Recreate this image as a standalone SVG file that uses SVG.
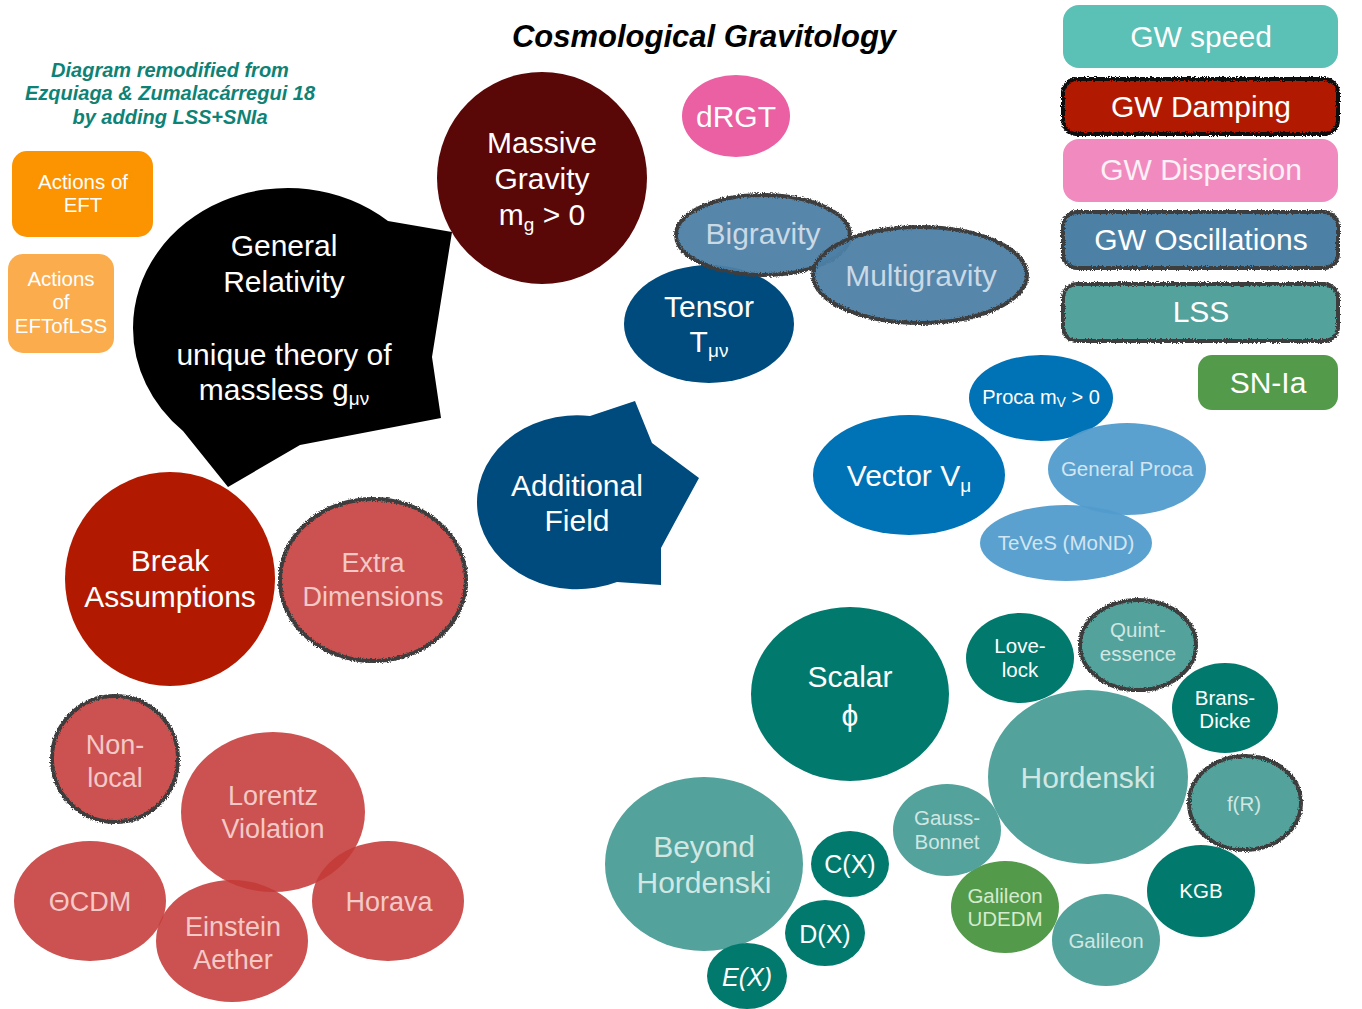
<svg xmlns="http://www.w3.org/2000/svg" width="1362" height="1009" viewBox="0 0 1362 1009">
<defs>
<filter id="rough" x="-10%" y="-10%" width="120%" height="120%">
<feTurbulence type="fractalNoise" baseFrequency="0.8" numOctaves="2" seed="3" result="n"/>
<feDisplacementMap in="SourceGraphic" in2="n" scale="4" xChannelSelector="R" yChannelSelector="G"/>
</filter>
</defs>
<style>
text{font-family:"Liberation Sans",Arial,sans-serif;text-anchor:middle}
.w{fill:#ffffff}
.big{font-size:30px}
.mid{font-size:27px}
.sm{font-size:20.5px}
.rough{fill:none;stroke:#3e3e3e;stroke-width:4;filter:url(#rough)}
.roughk{fill:none;stroke:#111;stroke-width:4;filter:url(#rough)}
.red{fill:rgb(196,58,56);fill-opacity:0.88}
.redt{fill:#f3c9c7}
.dteal{fill:#017a6d}
.lteal{fill:#53a29b}
.ltealt{fill:#d0e7e3}
.vblue{fill:#0072b6}
.lblue{fill:#529ccc}
.lbluet{fill:#d2e5f2}
.steel{fill:#4d80a5;fill-opacity:0.95}
.steelt{fill:#c9d9e6}
</style>

<g id="title">
<text x="704" y="47" style="font-size:31px;font-weight:bold;font-style:italic" fill="#000">Cosmological Gravitology</text>
</g>
<g id="subtitle" style="font-size:20px;font-weight:bold;font-style:italic" fill="#0e8275">
<text x="170" y="77">Diagram remodified from</text>
<text x="170" y="100">Ezquiaga &amp; Zumalacárregui 18</text>
<text x="170" y="124">by adding LSS+SNIa</text>
</g>

<g id="legend">
<g id="gw-speed"><rect x="1063" y="5" width="275" height="63" rx="16" fill="#5bc0b6"/><text x="1201" y="47" class="big w">GW speed</text></g>
<g id="gw-damping"><rect x="1063" y="79" width="275" height="55" rx="14" fill="#b11a00"/><rect x="1063" y="79" width="275" height="55" rx="14" class="roughk"/><text x="1201" y="117" class="big w">GW Damping</text></g>
<g id="gw-dispersion"><rect x="1063" y="139" width="275" height="63" rx="16" fill="#f18bbf"/><text x="1201" y="180" class="big" fill="#fdf0f6">GW Dispersion</text></g>
<g id="gw-oscillations"><rect x="1063" y="212" width="275" height="56" rx="14" fill="#4d80a5"/><rect x="1063" y="212" width="275" height="56" rx="14" class="rough"/><text x="1201" y="250" class="big w">GW Oscillations</text></g>
<g id="lss"><rect x="1063" y="284" width="275" height="57" rx="14" fill="#53a29b"/><rect x="1063" y="284" width="275" height="57" rx="14" class="rough"/><text x="1201" y="322" class="big w">LSS</text></g>
<g id="sn-ia"><rect x="1198" y="355" width="140" height="55" rx="14" fill="#539a4a"/><text x="1268" y="393" class="big w">SN-Ia</text></g>
</g>

<g id="actions-eft"><rect x="12" y="151" width="141" height="86" rx="15" fill="#fc9300"/>
<text x="83" y="189" class="sm w">Actions of</text><text x="83" y="212" class="sm w">EFT</text></g>
<g id="actions-eftoflss"><rect x="8" y="254" width="106" height="99" rx="15" fill="#fbac4d"/>
<text x="61" y="286" class="sm w">Actions</text><text x="61" y="309" class="sm w">of</text><text x="61" y="333" class="sm w">EFTofLSS</text></g>

<g id="general-relativity">
<path d="M388,221 L452,232 L432,357 L441,418 L300,445 L228,487 L183,431 A155 140 0 0 1 133,328 A155 140 0 0 1 388,221 Z" fill="#000"/>
<text x="284" y="256" class="big w">General</text>
<text x="284" y="292" class="big w">Relativity</text>
<text x="284" y="365" class="big w">unique theory of</text>
<text x="284" y="400" class="big w">massless g<tspan font-size="19" dy="5">μν</tspan></text>
</g>

<g id="massive-gravity">
<ellipse cx="542" cy="178" rx="105" ry="106" fill="#5a0707"/>
<text x="542" y="153" class="big w">Massive</text>
<text x="542" y="189" class="big w">Gravity</text>
<text x="542" y="225" class="big w">m<tspan font-size="19" dy="6">g</tspan><tspan dy="-6"> &gt; 0</tspan></text>
</g>

<g id="drgt"><ellipse cx="736" cy="116" rx="54" ry="41" fill="#eb5fa3"/><text x="736" y="127" class="big w">dRGT</text></g>

<g id="tensor"><ellipse cx="709" cy="324" rx="85" ry="59" fill="#004b7d"/>
<text x="709" y="317" class="big w">Tensor</text><text x="709" y="352" class="big w">T<tspan font-size="19" dy="5">μν</tspan></text></g>
<g id="bigravity"><ellipse cx="763" cy="235" rx="87" ry="40" class="steel"/><ellipse cx="763" cy="235" rx="87" ry="40" class="rough"/>
<text x="763" y="244" class="big steelt">Bigravity</text></g>
<g id="multigravity"><ellipse cx="920" cy="275" rx="107" ry="48" class="steel"/><ellipse cx="920" cy="275" rx="107" ry="48" class="rough"/>
<text x="921" y="286" class="big steelt">Multigravity</text></g>

<g id="additional-field">
<path d="M590,416 L635,401 L652,443 L699,478 L675,522 L661,548 L661,585 L617,582 A100 87 0 1 1 590,416 Z" fill="#004b7d"/>
<text x="577" y="496" class="big w">Additional</text><text x="577" y="531" class="big w">Field</text>
</g>

<g id="break-assumptions"><ellipse cx="170" cy="579" rx="105" ry="107" fill="#b11a00"/>
<text x="170" y="571" class="big w">Break</text><text x="170" y="607" class="big w">Assumptions</text></g>
<g id="extra-dimensions"><ellipse cx="373" cy="580" rx="93" ry="81" class="red"/><ellipse cx="373" cy="580" rx="93" ry="81" class="rough"/>
<text x="373" y="572" class="mid redt">Extra</text><text x="373" y="606" class="mid redt">Dimensions</text></g>

<g id="non-local"><ellipse cx="115" cy="759" rx="63" ry="63" class="red"/><ellipse cx="115" cy="759" rx="63" ry="63" class="rough"/>
<text x="115" y="754" class="mid redt">Non-</text><text x="115" y="787" class="mid redt">local</text></g>
<g id="lorentz-violation"><ellipse cx="273" cy="812" rx="92" ry="80" class="red"/>
<text x="273" y="805" class="mid redt">Lorentz</text><text x="273" y="838" class="mid redt">Violation</text></g>
<g id="theta-cdm"><ellipse cx="90" cy="901" rx="76" ry="60" class="red"/><text x="90" y="911" class="mid redt">ΘCDM</text></g>
<g id="einstein-aether"><ellipse cx="232" cy="941" rx="76" ry="61" class="red"/>
<text x="233" y="936" class="mid redt">Einstein</text><text x="233" y="969" class="mid redt">Aether</text></g>
<g id="horava"><ellipse cx="388" cy="901" rx="76" ry="60" class="red"/><text x="389" y="911" class="mid redt">Horava</text></g>

<g id="proca"><ellipse cx="1041" cy="398" rx="72" ry="43" class="vblue"/>
<text x="1041" y="404" class="w" style="font-size:20px">Proca m<tspan font-size="14" dy="3">V</tspan><tspan dy="-3"> &gt; 0</tspan></text></g>
<g id="vector"><ellipse cx="909" cy="475" rx="96" ry="60" class="vblue"/>
<text x="909" y="486" class="big w">Vector V<tspan font-size="19" dy="6">μ</tspan></text></g>
<g id="general-proca"><ellipse cx="1127" cy="469" rx="79" ry="46" class="lblue" fill-opacity="0.95"/>
<text x="1127" y="476" class="sm lbluet">General Proca</text></g>
<g id="teves"><ellipse cx="1066" cy="543" rx="86" ry="38" class="lblue" fill-opacity="0.95"/>
<text x="1066" y="550" class="sm lbluet">TeVeS (MoND)</text></g>

<g id="scalar"><ellipse cx="850" cy="694" rx="99" ry="87" class="dteal"/>
<text x="850" y="687" class="big w">Scalar</text><text x="850" y="726" class="big w">ϕ</text></g>
<g id="lovelock"><ellipse cx="1020" cy="658" rx="54" ry="45" class="dteal"/>
<text x="1020" y="653" class="sm w">Love-</text><text x="1020" y="677" class="sm w">lock</text></g>
<g id="quintessence"><ellipse cx="1138" cy="645" rx="58" ry="45" class="lteal"/><ellipse cx="1138" cy="645" rx="58" ry="45" class="rough"/>
<text x="1138" y="637" class="sm ltealt">Quint-</text><text x="1138" y="661" class="sm ltealt">essence</text></g>
<g id="brans-dicke"><ellipse cx="1225" cy="708" rx="53" ry="45" class="dteal"/>
<text x="1225" y="705" class="sm w">Brans-</text><text x="1225" y="728" class="sm w">Dicke</text></g>
<g id="hordenski"><ellipse cx="1088" cy="777" rx="100" ry="87" class="lteal"/>
<text x="1088" y="788" class="big ltealt">Hordenski</text></g>
<g id="f-r"><ellipse cx="1245" cy="803" rx="56" ry="47" class="lteal"/><ellipse cx="1245" cy="803" rx="56" ry="47" class="rough"/>
<text x="1244" y="811" class="sm ltealt">f(R)</text></g>
<g id="kgb"><ellipse cx="1201" cy="891" rx="54" ry="46" class="dteal"/><text x="1201" y="898" class="sm w">KGB</text></g>
<g id="galileon"><ellipse cx="1106" cy="940" rx="54" ry="46" class="lteal"/><text x="1106" y="948" class="sm ltealt">Galileon</text></g>
<g id="galileon-udedm"><ellipse cx="1005" cy="907" rx="54" ry="46" fill="#539a4a"/>
<text x="1005" y="903" class="sm" fill="#d5ebcf">Galileon</text><text x="1005" y="926" class="sm" fill="#d5ebcf">UDEDM</text></g>
<g id="gauss-bonnet"><ellipse cx="947" cy="830" rx="54" ry="46" class="lteal"/>
<text x="947" y="825" class="sm ltealt">Gauss-</text><text x="947" y="849" class="sm ltealt">Bonnet</text></g>
<g id="beyond-hordenski"><ellipse cx="704" cy="864" rx="99" ry="87" class="lteal"/>
<text x="704" y="857" class="big ltealt">Beyond</text><text x="704" y="893" class="big ltealt">Hordenski</text></g>
<g id="c-x"><ellipse cx="850" cy="864" rx="39" ry="33" class="dteal"/><text x="850" y="873" class="w" style="font-size:25px">C(X)</text></g>
<g id="d-x"><ellipse cx="825" cy="933" rx="40" ry="33" class="dteal"/><text x="825" y="943" class="w" style="font-size:25px">D(X)</text></g>
<g id="e-x"><ellipse cx="747" cy="976" rx="40" ry="33" class="dteal"/><text x="747" y="986" class="w" style="font-size:25px;font-style:italic">E(X)</text></g>

<g id="connectors"></g>
</svg>
